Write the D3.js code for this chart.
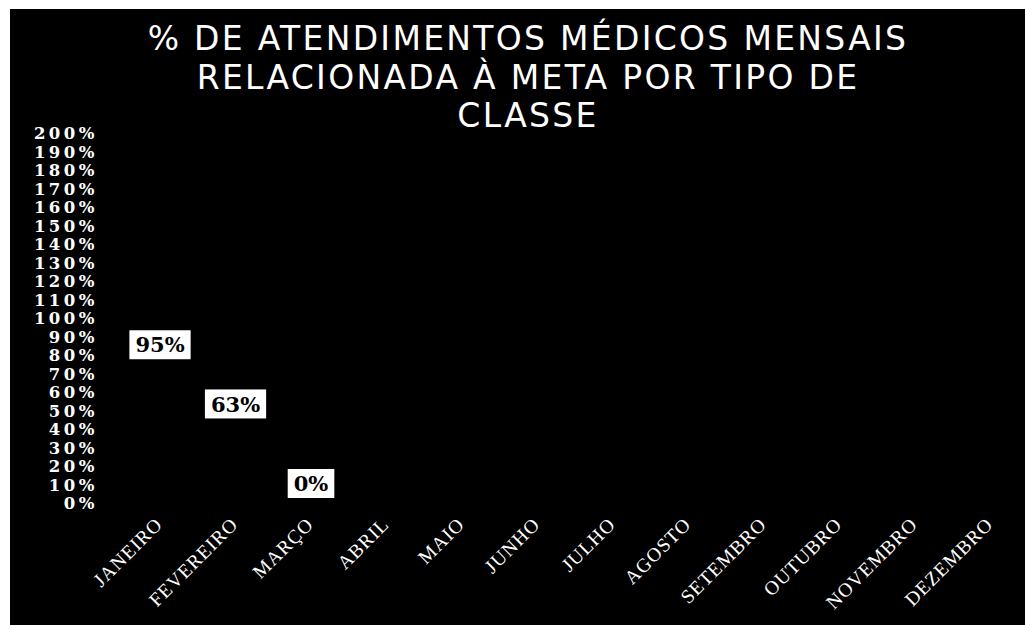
<!DOCTYPE html>
<html>
<head>
<meta charset="utf-8">
<script src="https://cdn.jsdelivr.net/npm/d3@7"></script>
<style>
  body { margin: 0; background: #fff; }
  svg { display: block; }
</style>
</head>
<body>
<svg width="1025" height="625"></svg>
<script>
let months = ['JANEIRO', 'FEVEREIRO', 'MARÇO', 'ABRIL', 'MAIO', 'JUNHO',
  'JULHO', 'AGOSTO', 'SETEMBRO', 'OUTUBRO', 'NOVEMBRO', 'DEZEMBRO']
let values = [0.95, 0.63, 0]
let titleLines = ['% DE ATENDIMENTOS MÉDICOS MENSAIS', 'RELACIONADA À META POR TIPO DE', 'CLASSE']
let yTicks = d3.range(0, 21).map(d => d / 10)

let width = 1025
let height = 625

let svg = d3.select('svg')

// black plate
svg.append('rect')
  .attr('x', 10)
  .attr('y', 9)
  .attr('width', width - 10)
  .attr('height', height - 9)
  .attr('fill', '#000')

// title
svg.append('g')
  .selectAll('text')
  .data(titleLines)
  .enter()
  .append('text')
  .attr('x', 528)
  .attr('y', (d, i) => 50 + i * 38.5)
  .attr('text-anchor', 'middle')
  .attr('fill', '#fff')
  .attr('font-family', 'DejaVu Sans')
  .attr('font-size', 33)
  .attr('letter-spacing', 2.3)
  .text(d => d)

let xScale = d3.scaleBand()
  .domain(months)
  .range([122.25, 1028.25])
  .paddingInner(0.3)
  .paddingOuter(0.15)

let yScale = d3.scaleLinear()
  .domain([0, 2])
  .range([503.5, 133.5])

// bars (black on black, like the original)
let data = values.map((v, i) => ({ month: months[i], value: v }))
svg.selectAll('rect.bar')
  .data(data)
  .enter()
  .append('rect')
  .attr('class', 'bar')
  .attr('x', d => xScale(d.month))
  .attr('width', xScale.bandwidth())
  .attr('y', d => yScale(d.value))
  .attr('height', d => yScale(0) - yScale(d.value))
  .attr('fill', '#000')

// y axis
let yAxis = d3.axisLeft(yScale)
  .tickValues(yTicks)
  .tickFormat(d3.format('.0%'))
  .tickSize(0)
  .tickPadding(0)

let yg = svg.append('g')
  .attr('transform', 'translate(98,0)')
  .call(yAxis)
yg.select('.domain').remove()
yg.selectAll('text')
  .attr('fill', '#fff')
  .attr('font-family', 'DejaVu Serif')
  .attr('font-weight', 'bold')
  .attr('font-size', 16.5)
  .attr('letter-spacing', 3.5)

// x axis
let xAxis = d3.axisBottom(xScale).tickSize(0).tickPadding(0)
let xg = svg.append('g')
  .attr('transform', 'translate(0,516)')
  .call(xAxis)
xg.select('.domain').remove()
xg.selectAll('text')
  .attr('fill', '#fff')
  .attr('font-family', 'Liberation Serif')
  .attr('font-size', 19.5)
  .attr('letter-spacing', 1)
  .attr('text-anchor', 'end')
  .attr('dy', '0.7em')
  .attr('transform', 'translate(-6,0) rotate(-45)')

// data labels
let labels = svg.append('g')
  .selectAll('g')
  .data(data)
  .enter()
  .append('g')
  .attr('transform', d => 'translate(' + [xScale(d.month) + xScale.bandwidth() / 2,
    Math.min(yScale(d.value) + 17, yScale(0) - 20)] + ')')

labels.append('text')
  .attr('text-anchor', 'middle')
  .attr('dy', '0.36em')
  .attr('font-family', 'DejaVu Serif')
  .attr('font-weight', 'bold')
  .attr('font-size', 21)
  .attr('fill', '#000')
  .text(d => d3.format('.0%')(d.value))
  .each(function () {
    let b = this.getBBox()
    d3.select(this.parentNode).insert('rect', 'text')
      .attr('x', b.x - 6)
      .attr('y', -14.5)
      .attr('width', b.width + 12)
      .attr('height', 29)
      .attr('fill', '#fff')
  })
</script>
</body>
</html>
